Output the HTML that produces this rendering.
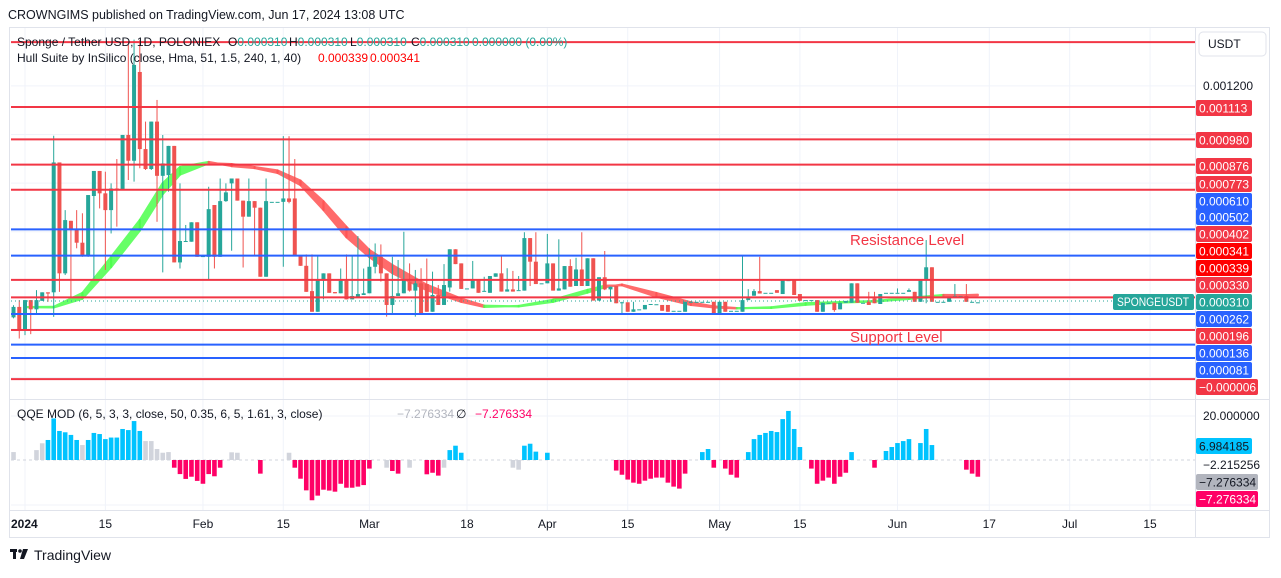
<!DOCTYPE html>
<html><head><meta charset="utf-8"><style>
html,body{margin:0;padding:0;background:#fff;}
body{width:1281px;height:573px;overflow:hidden;font-family:"Liberation Sans",sans-serif;}
svg text{font-family:"Liberation Sans",sans-serif;}
</style></head><body>
<svg id="chart" width="1281" height="573" viewBox="0 0 1281 573" xmlns="http://www.w3.org/2000/svg">
<rect x="0" y="0" width="1281" height="573" fill="#ffffff"/>
<text x="8" y="19" font-size="12.5" fill="#131722">CROWNGIMS published on TradingView.com, Jun 17, 2024 13:08 UTC</text>
<rect x="9.5" y="27.5" width="1260" height="510" fill="none" stroke="#e0e3eb"/>
<g id="grid"></g>
<g id="hull"></g>
<g id="candles"></g>
<g id="levels"></g>
<line x1="11" y1="301" x2="1112" y2="301" stroke="#26a69a" stroke-dasharray="1,3"/>
<text x="850" y="245" font-size="15" fill="#f23645">Resistance Level</text>
<text x="850" y="342" font-size="15" fill="#f23645">Support Level</text>
<g font-size="12">
<text x="17" y="46" fill="#131722">Sponge / Tether USD, 1D, POLONIEX</text>
<text x="228" y="46" fill="#131722">O<tspan fill="#26a69a">0.000310</tspan></text>
<text x="289" y="46" fill="#131722">H<tspan fill="#26a69a">0.000310</tspan></text>
<text x="350" y="46" fill="#131722">L<tspan fill="#26a69a">0.000310</tspan></text>
<text x="411" y="46" fill="#131722">C<tspan fill="#26a69a">0.000310</tspan></text>
<text x="472" y="46" fill="#26a69a">0.000000 (0.00%)</text>
<text x="17" y="62" fill="#131722">Hull Suite by InSilico (close, Hma, 51, 1.5, 240, 1, 40)</text>
<text x="318" y="62" fill="#ff0000">0.000339</text>
<text x="370" y="62" fill="#ff0000">0.000341</text>
</g>
<line x1="9" y1="399.5" x2="1270" y2="399.5" stroke="#e0e3eb"/>
<line x1="11" y1="460" x2="1195" y2="460" stroke="#d1d4dc" stroke-dasharray="3,3"/>
<g id="qqe"></g>
<g font-size="12">
<text x="17" y="418" fill="#131722">QQE MOD (6, 5, 3, 3, close, 50, 0.35, 6, 5, 1.61, 3, close)</text>
<text x="397" y="418" fill="#b2b5be">−7.276334</text>
<text x="456" y="418" fill="#131722">∅</text>
<text x="475" y="418" fill="#ff0066">−7.276334</text>
</g>
<line x1="1195.5" y1="28" x2="1195.5" y2="537" stroke="#e0e3eb"/>
<line x1="9" y1="510.5" x2="1270" y2="510.5" stroke="#e0e3eb"/>
<rect x="1199" y="32" width="67" height="24" rx="4" fill="#fff" stroke="#e0e3eb"/>
<text x="1208" y="48" font-size="12" fill="#131722">USDT</text>
<text x="1203" y="90" font-size="12" fill="#131722">0.001200</text>
<text x="1203" y="420" font-size="12" fill="#131722">20.000000</text>
<text x="1203" y="469" font-size="12" fill="#131722">−2.215256</text>
<g id="axislabels"></g>
<g id="timeaxis"></g>
<g>
<rect x="10" y="549" width="7" height="3" fill="#131722"/>
<rect x="13" y="549" width="3" height="10" fill="#131722"/>
<circle cx="20" cy="551" r="1.8" fill="#131722"/>
<polygon points="23,549 28,549 24,559 20,559" fill="#131722"/>
<text x="34" y="560" font-size="14" fill="#131722">TradingView</text>
</g>
</svg>
<script>
// ---- data (prices in micro-USDT, i.e. ×1e-6) ----
const startDay = -2;
const openP = [248,291,198,319,281,316,351,351,885,429,645,611,555,504,747,850,758,689,778,771,998,892,1257,940,858,1053,830,833,953,474,559,559,639,497,497,710,497,726,799,819,728,662,726,699,415,723,723,723,737,737,501,460,356,271,399,429,352,347,399,322,333,340,347,456,497,429,299,336,347,395,358,388,385,271,340,299,371,528,470,367,367,402,354,349,415,429,354,363,360,358,574,477,388,388,470,358,363,459,377,445,377,491,317,413,363,377,310,310,271,281,281,303,302,299,299,275,275,271,312,312,312,312,312,264,312,275,275,271,319,337,356,349,349,360,344,401,401,344,319,319,319,271,308,308,281,308,308,388,308,312,326,303,349,349,349,349,353,353,312,401,454,312,312,312,336,336,336,312,310];
const highP = [298,319,319,319,360,351,351,995,885,689,645,689,676,751,850,850,847,799,899,998,1368,1390,1388,1053,1053,1142,998,953,953,799,628,639,639,500,785,710,819,799,819,819,728,819,726,699,819,723,723,993,993,899,501,507,507,500,429,429,352,449,507,500,582,449,532,552,548,429,497,484,600,470,443,450,490,436,381,467,528,528,470,367,480,402,415,418,429,500,450,439,418,598,574,598,388,591,470,569,459,487,493,598,491,491,413,521,374,377,312,310,312,281,299,303,302,299,299,275,275,312,312,312,312,312,312,312,312,275,275,502,364,364,497,349,349,360,401,401,401,344,319,319,319,308,308,308,308,315,388,388,308,353,353,344,349,349,367,349,367,353,401,566,454,312,312,330,385,336,385,312,310];
const lowP = [244,161,175,179,264,316,312,250,353,422,333,532,497,497,408,696,443,593,621,771,813,806,861,854,854,641,433,765,474,449,559,559,497,497,405,449,497,723,522,728,453,662,504,415,415,723,723,456,717,501,460,353,271,271,322,349,347,347,322,322,333,340,347,429,395,251,258,336,347,354,251,262,271,271,299,299,354,467,365,367,367,349,354,349,415,354,354,354,360,358,377,385,388,388,358,358,363,374,377,377,377,317,317,360,312,306,264,271,271,281,281,303,302,275,271,275,275,271,312,312,312,312,264,264,271,275,275,271,319,337,346,349,349,349,344,401,340,316,319,319,271,271,308,271,281,308,308,308,308,299,306,303,349,349,349,349,353,312,312,306,312,312,312,312,336,336,312,312,310];
const closeP = [291,198,319,281,319,351,346,885,429,648,607,555,504,751,850,758,689,778,771,998,892,1286,940,858,1053,830,881,953,474,562,562,639,497,500,693,497,726,762,819,728,662,726,699,415,726,723,723,737,723,501,460,353,271,404,429,349,347,399,322,336,344,347,456,497,429,299,336,347,401,358,388,264,271,340,299,381,528,467,365,367,402,349,357,418,429,354,363,354,360,574,477,385,388,470,358,367,459,374,445,377,491,317,413,363,374,306,310,271,281,281,299,303,302,275,271,275,275,312,312,312,312,312,264,312,271,275,275,319,333,356,346,349,349,349,401,401,340,316,319,319,271,308,308,278,308,315,388,308,308,299,306,344,349,349,349,349,360,312,401,454,312,312,312,330,336,336,312,312,310];

// QQE MOD histogram, one entry per day from startDay
const qqeVals = [3.6,null,null,null,4.5,7.6,9.1,18.9,13.2,12.6,11.4,9.1,6.8,9.1,12.3,11.8,9.5,10.2,10.2,14.1,13.6,17.7,13.2,8.6,8.6,5,3.3,3.6,-3.5,-6.4,-8.6,-7.6,-9.5,-10.8,-6.4,-7.4,-3.5,null,3.5,3.3,null,null,null,-6.2,null,null,null,null,3.3,-3.5,-8.5,-13.8,-18.3,-16.2,-13.5,-13.9,-14.4,-10.8,-12.6,-12.6,-12.1,-11.4,-3.9,null,null,-3.5,-5,-6.2,null,-3.5,null,null,-6.5,-5.8,-7.1,-3.5,4.5,6.5,3.3,null,null,null,null,null,null,null,null,-3.5,-4.4,6.5,7.4,3.8,null,3.3,null,null,null,null,null,null,null,null,null,null,null,-4.8,-6.7,-8.9,-10.3,-10.8,-9.4,-8.5,-8,-8,-10.3,-12.1,-13,-6.2,null,null,3.6,5,-3.5,null,-3.9,-6.7,-8,null,3.6,9.5,11.4,12.3,13.2,12.7,18.6,22.3,14.1,5.9,null,-3.9,-10.8,-9.4,-8,-10.8,-7.6,-5.8,3.6,null,null,null,-3.5,null,4.1,5.9,7.7,8.6,9.5,null,7.7,14.1,6.8,null,null,null,null,null,-4.4,-6.2,-7.6];
// state per day: b=above threshold (blue), p=below (pink), g=neutral (gray), n=none
const qqeStateRuns = ["gnnn","gg","bbbbbb","g","bbbbbbbbbb","ggggg","ppppppppp","n","gg","nnn","p","nnnn","g","pppppppppppppp","nn","g","pp","n","g","nn","ppp","g","bbb","nnnnnnnn","gg","bbb","n","b","nnnnnnnnnnn","ppppppppppppp","nn","bb","p","n","ppp","n","bbbbbbbbbb","n","ppppppp","b","nnn","p","n","bbbbb","n","bbb","nnnnn","ppp"];
const qqeState = qqeStateRuns.join("");

// Hull Suite ribbon: sample days, HMA and HMA[2]
const hullDays = [0,5,10,15,20,24,27,32,36,40,44,48,52,56,60,64,70,76,80,86,92,98,101,104,110,116,120,124,130,136,142,148,154,160,166];
const hullA = [290,291,348,496,648,800,866,887,870,862,842,792,690,578,496,430,360,312,291,295,320,361,378,380,333,299,289,285,289,306,311,315,328,340,339];
const hullB = [290,289,325,455,605,755,835,882,878,866,852,810,725,620,525,463,382,325,296,293,312,350,372,383,348,310,293,286,287,300,309,313,324,336,341];

// Horizontal levels
const levelPrices = [1380,1113,980,876,773,610,502,402,330,262,196,136,81,-6];
const levelKinds = ["r","r","r","r","r","b","b","r","r","b","r","b","b","r"];

// Axis tick labels
const priceTickVals = [1200,1000,800,600,400,200,0];
const timeTickDays = [0,14,31,45,60,77,91,105,121,135,152,168,182,196];
const timeTickLabels = ["2024","15","Feb","15","Mar","18","Apr","15","May","15","Jun","17","Jul","15"];
const axisLabelTexts = ["0.001113","0.000980","0.000876","0.000773","0.000610","0.000502","0.000402","0.000341","0.000339","0.000330","0.000310","0.000262","0.000196","0.000136","0.000081","−0.000006","6.984185","−7.276334","−7.276334"];
const axisLabelKinds = ["r","r","r","r","b","b","r","R","R","r","t","b","r","b","b","r","c","g","p"];
const axisLabelY = [108,140,166,184,201,217,234,251,268,285,302,319,336,353,370,387,446,482,499];

// ---- scales ----
const NS="http://www.w3.org/2000/svg";
function xD(d){return 25+5.74*d;}
function yP(p){return 107+(1113-p)*0.2432;}
function yQ(v){return 460-v*2.2;}
function mk(tag,attrs,parent){const e=document.createElementNS(NS,tag);for(const k in attrs)e.setAttribute(k,attrs[k]);parent.appendChild(e);return e;}
const colors={r:"#f23645",b:"#2962ff",R:"#ff0000",t:"#26a69a",c:"#00c3ff",g:"#b2b5be",p:"#ff0066"};

// grid
const grid=document.getElementById("grid");
priceTickVals.forEach(v=>{
  const l=mk("line",{x1:11,x2:1195,y1:yP(v),y2:yP(v),stroke:"#f0f3fa"},grid);
  
  
});
[416,505].forEach(y=>{
  const l=mk("line",{x1:11,x2:1195,y1:y,y2:y,stroke:"#f0f3fa"},grid);
  
  
});
timeTickDays.forEach(d=>{
  const l=mk("line",{x1:xD(d),x2:xD(d),y1:28,y2:510,stroke:"#f0f3fa"},grid);
  
  
});

// hull ribbon
const hull=document.getElementById("hull");
for(let i=0;i<hullDays.length-1;i++){
  const x1=xD(hullDays[i]),x2=xD(hullDays[i+1]);
  const up=hullA[i+1]>=hullB[i+1];
  const pts=[[x1,yP(hullA[i])],[x2,yP(hullA[i+1])],[x2,yP(hullB[i+1])],[x1,yP(hullB[i])]].map(p=>p.join(",")).join(" ");
  const c=up?"#4cff4c":"#ff5252";
  const pg=mk("polygon",{points:pts,fill:c,stroke:c,"stroke-width":2.2,"stroke-linejoin":"round",opacity:0.85},hull);
  
  
}

// candles
const cg=document.getElementById("candles");
for(let i=0;i<openP.length;i++){
  const d=startDay+i,x=xD(d);
  const o=openP[i],h=highP[i],l=lowP[i],c=closeP[i];
  const col=c>=o?"#26a69a":"#ef5350";
  const g=mk("g",{},cg);
  
  
  mk("line",{x1:x,x2:x,y1:Math.max(28,yP(h)),y2:yP(l),stroke:col,"stroke-width":1},g);
  const top=yP(Math.max(o,c)),bot=yP(Math.min(o,c));
  mk("rect",{x:x-2,y:Math.max(28,top),width:4,height:Math.max(1,bot-Math.max(28,top)),fill:col},g);
}

// levels
const lg=document.getElementById("levels");
levelPrices.forEach((p,i)=>{
  const l=mk("line",{x1:11,x2:1195,y1:yP(p),y2:yP(p),stroke:levelKinds[i]==="r"?"#f23645":"#2962ff","stroke-width":2},lg);
  
  
});

// qqe
const qg=document.getElementById("qqe");
qqeVals.forEach((v,i)=>{
  if(v===null)return;
  const x=xD(startDay+i);
  const st=qqeState[i];
  const col=st==="b"?"#00c3ff":st==="p"?"#ff0066":"#d1d4dc";
  const y0=yQ(0),y1=yQ(v);
  const r=mk("rect",{x:x-2.3,y:Math.min(y0,y1),width:4.6,height:Math.abs(y1-y0),fill:col},qg);
  
  
});

// axis labels
const al=document.getElementById("axislabels");
axisLabelTexts.forEach((t,i)=>{
  const k=axisLabelKinds[i],y=axisLabelY[i];
  const w=t.charAt(0)==="−"?62:56;
  const r=mk("rect",{x:1196,y:y-8,width:w,height:16,rx:2,fill:colors[k]},al);
  
  
  const tx=mk("text",{x:1199,y:y+4.5,"font-size":12,fill:(k==="c"||k==="g")?"#131722":"#ffffff"},al);
  tx.textContent=t;
  
  
});
const sb=mk("rect",{x:1113,y:294,width:81,height:16,rx:2,fill:"#26a69a"},al);


const st=mk("text",{x:1117,y:306,"font-size":11.5,fill:"#ffffff",textLength:72,lengthAdjust:"spacingAndGlyphs"},al);
st.textContent="SPONGEUSDT";



// time axis
const ta=document.getElementById("timeaxis");
timeTickLabels.forEach((t,i)=>{
  const x=i===0?11:xD(timeTickDays[i]);
  const tx=mk("text",{x:x,y:528,"font-size":12,fill:"#131722","text-anchor":i===0?"start":"middle","font-weight":i===0?"bold":"normal"},ta);
  tx.textContent=t;
  
  
});
</script>
</body></html>
